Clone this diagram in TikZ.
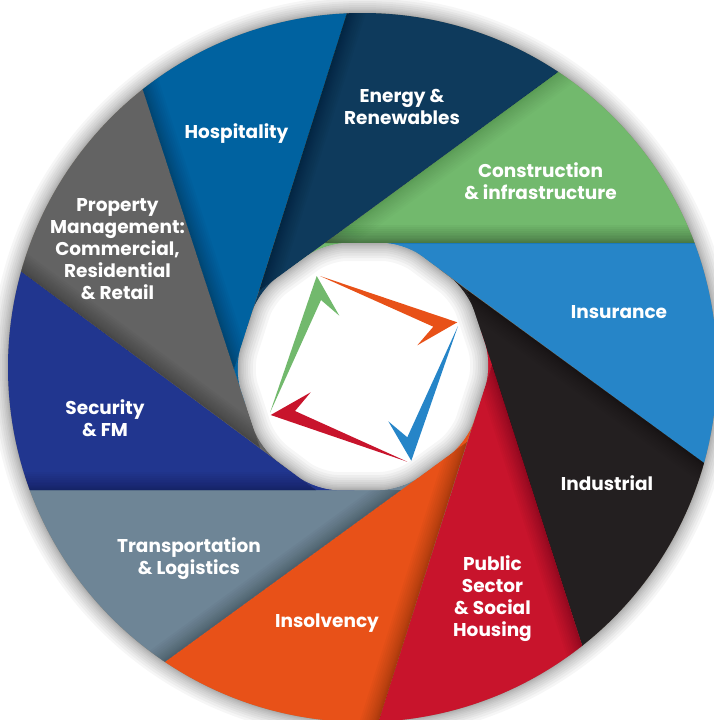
\documentclass[tikz,border=0pt]{standalone}
\usepackage{fontspec}
\setmainfont{Poppins}
\usetikzlibrary{calc}
\definecolor{cgreen}{HTML}{72B96D}
\definecolor{corange}{HTML}{E85118}
\definecolor{cblue}{HTML}{2685C8}
\definecolor{cred}{HTML}{C8142C}
\definecolor{cblack}{HTML}{231F20}
\definecolor{cnavy}{HTML}{0E3A5C}
\definecolor{chosp}{HTML}{0062A0}
\definecolor{cgrey}{HTML}{636363}
\definecolor{csec}{HTML}{21368F}
\definecolor{cslate}{HTML}{6E8596}
\definecolor{chair}{HTML}{8A7F6A}
\tikzset{
  label/.style={text=white,align=center,font=\fontsize{18.5}{22}\selectfont\bfseries,inner sep=0pt},
  hole/.style={rounded corners=21pt}
}
% apex, outer a, outer b, colour, previous apex, next apex
\newcommand{\wedgepart}[6]{%
  \fill[#4] (#1) -- ($(#1)!1.3!(#2)$) -- ($(#1)!1.3!(#3)$) -- cycle;
  \fill[#4] ($(#1)!.45!(#5)$) -- (#1) -- ($(#1)!.45!(#6)$) -- cycle;}
% apex, outer a, outer b, outer point of the edge that takes the shadow, opacity
\newcommand{\wedgeshade}[5]{%
  \begin{scope}
    \path[clip] (#1) -- ($(#1)!1.3!(#2)$) -- ($(#1)!1.3!(#3)$) -- cycle;
    \foreach \w in {2,4,6,8,11,14,17,20,24,28,32,36}{
      \draw[black,opacity=#5,line width=\w pt] (#1) -- ($(#1)!1.3!(#4)$);
    }
  \end{scope}}
\begin{document}
\begin{tikzpicture}[x=1pt,y=-1pt]
\useasboundingbox (0,0) rectangle (714,720);
\fill[white] (0,0) rectangle (714,720);
\begin{scope}
  \path[clip] (0,0) rectangle (714,720);
  \coordinate (ctr) at (362.5,367.5);
  % outer points
  \coordinate (o1) at (558,72);
  \coordinate (o2) at (695,243);
  \coordinate (o3) at (704,463);
  \coordinate (o4) at (582,645);
  \coordinate (o5) at (379,720);
  \coordinate (o6) at (166,661);
  \coordinate (o7) at (30,490);
  \coordinate (o8) at (22,272);
  \coordinate (o9) at (143,90);
  \coordinate (o10) at (347,13);
  % apexes
  \coordinate (aA) at (325,243);
  \coordinate (aB) at (404,243);
  \coordinate (aC) at (467,290);
  \coordinate (aD) at (492,365);
  \coordinate (aE) at (467,442);
  \coordinate (aF) at (401,490);
  \coordinate (aG) at (316,490);
  \coordinate (aH) at (260,448);
  \coordinate (aI) at (234,369);
  \coordinate (aJ) at (259,291);
  % outer drop shadow
  \foreach \w in {2,4,6,9,12,16,20,24,29,34}{
    \draw[black,opacity=.035,line width=\w pt] (ctr) circle[radius=354.5];
  }
  \fill[chair] (ctr) circle[radius=354.5];
  \begin{scope}
    \path[clip] (ctr) circle[radius=354.5];
    \wedgepart{aA}{o1}{o2}{cgreen}{aJ}{aB}
    \wedgepart{aB}{o2}{o3}{cblue}{aA}{aC}
    \wedgepart{aC}{o3}{o4}{cblack}{aB}{aD}
    \wedgepart{aD}{o4}{o5}{cred}{aC}{aE}
    \wedgepart{aE}{o5}{o6}{corange}{aD}{aF}
    \wedgepart{aF}{o6}{o7}{cslate}{aE}{aG}
    \wedgepart{aG}{o7}{o8}{csec}{aF}{aH}
    \wedgepart{aH}{o8}{o9}{cgrey}{aG}{aI}
    \wedgepart{aI}{o9}{o10}{chosp}{aH}{aJ}
    \wedgepart{aJ}{o10}{o1}{cnavy}{aI}{aA}
    \wedgeshade{aA}{o1}{o2}{o2}{.03}
    \wedgeshade{aA}{o1}{o2}{o1}{.012}
    \wedgeshade{aC}{o3}{o4}{o3}{.022}
    \wedgeshade{aD}{o4}{o5}{o4}{.022}
    \wedgeshade{aE}{o5}{o6}{o5}{.022}
    \wedgeshade{aF}{o6}{o7}{o6}{.022}
    \wedgeshade{aG}{o7}{o8}{o7}{.022}
    \wedgeshade{aH}{o8}{o9}{o8}{.022}
    \wedgeshade{aI}{o9}{o10}{o9}{.022}
    \wedgeshade{aJ}{o10}{o1}{o10}{.022}
  \end{scope}
  % central aperture
  \fill[white,hole] (aA) -- (aB) -- (aC) -- (aD) -- (aE) -- (aF) -- (aG) -- (aH) -- (aI) -- (aJ) -- cycle;
  \begin{scope}
    \path[clip,hole] (aA) -- (aB) -- (aC) -- (aD) -- (aE) -- (aF) -- (aG) -- (aH) -- (aI) -- (aJ) -- cycle;
    \foreach \w in {2,4,6,9,12,16,20,25,30,36}{
      \draw[black,opacity=.035,line width=\w pt,hole] (aA) -- (aB) -- (aC) -- (aD) -- (aE) -- (aF) -- (aG) -- (aH) -- (aI) -- (aJ) -- cycle;
    }
  \end{scope}
  % logo arrows
  \fill[cgreen] (316.7,276) -- (339.3,315.7) -- (321,300) -- (270,412.7) -- cycle;
  \fill[corange] (320,276) -- (457.3,322.3) -- (417.3,345.3) -- (433.3,326.7) -- cycle;
  \fill[cblue] (458,326) -- (411.3,460.7) -- (388.3,421.3) -- (407.3,437.3) -- cycle;
  \fill[cred] (407.3,461.7) -- (270.7,415) -- (310.7,392.3) -- (295,411) -- cycle;
\end{scope}
% labels
\node[label] (energy) at (402,106.5) {Energy \&\\Renewables};
\node[label] (constr) at (540.5,181.5) {Construction\\\& infrastructure};
\node[label] (hosp) at (236.5,133.5) {Hospitality};
\node[label] (prop) at (117.5,249.5) {Property\\Management:\\Commercial,\\Residential\\\& Retail};
\node[label] (insur) at (619,312.5) {Insurance};
\node[label] (indus) at (607,483.5) {Industrial};
\node[label] (public) at (492.5,598.5) {Public\\Sector\\\& Social\\Housing};
\node[label] (insol) at (327,623) {Insolvency};
\node[label] (trans) at (189,558.5) {Transportation\\\& Logistics};
\node[label] (secur) at (105,418) {Security\\\& FM};
\end{tikzpicture}
\end{document}
